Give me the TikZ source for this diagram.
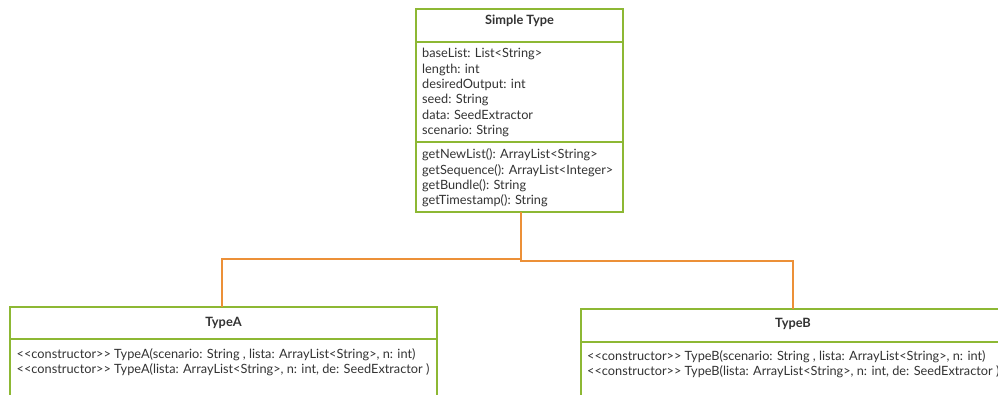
\documentclass[tikz,border=0pt]{standalone}
\usepackage{fontspec}
\setmainfont{Lato}[Ligatures=TeXOff]
\definecolor{umlgreen}{HTML}{8DB834}
\definecolor{linkorange}{HTML}{EC9038}
\definecolor{txt}{HTML}{333333}
\begin{document}
\begin{tikzpicture}[x=1pt,y=-1pt,
  classbox/.style={draw=umlgreen, line width=2pt, fill=white, rectangle, inner sep=0pt, outer sep=0pt, anchor=north west},
  divider/.style={draw=umlgreen, line width=2pt},
  classtitle/.style={font=\fontsize{12.8}{14}\selectfont\bfseries, text=txt, anchor=base, inner sep=0pt},
  member/.style={font=\fontsize{12.75}{14}\selectfont, text=txt, anchor=base west, inner sep=0pt},
  link/.style={draw=linkorange, line width=2pt}]
\useasboundingbox (0,0) rectangle (998,395);
\clip (0,0) rectangle (998,395);

% class boxes
\node[classbox, minimum width=207pt, minimum height=203pt] (simple) at (416,9) {};
\node[classbox, minimum width=427pt, minimum height=120pt] (typeA) at (10,307) {};
\node[classbox, minimum width=424pt, minimum height=120pt] (typeB) at (581,309) {};

% compartment dividers
\draw[divider] (simple.west |- 0,42) -- (simple.east |- 0,42);
\draw[divider] (simple.west |- 0,142) -- (simple.east |- 0,142);
\draw[divider] (typeA.west |- 0,339) -- (typeA.east |- 0,339);
\draw[divider] (typeB.west |- 0,342) -- (typeB.east |- 0,342);

% Simple Type
\node[classtitle] (simpleT) at (519.5,25) {Simple Type};
\node[member] (s1) at (422,58)    {baseList: List<String>};
\node[member] (s2) at (422,73.3)  {length: int};
\node[member] (s3) at (422,88.6)  {desiredOutput: int};
\node[member] (s4) at (422,104)   {seed: String};
\node[member] (s5) at (422,119.2) {data: SeedExtractor};
\node[member] (s6) at (422,134.5) {scenario: String};
\node[member] (m1) at (422,159)   {getNewList(): ArrayList<String>};
\node[member] (m2) at (422,174.3) {getSequence(): ArrayList<Integer>};
\node[member] (m3) at (422,189.6) {getBundle(): String};
\node[member] (m4) at (422,205)   {getTimestamp(): String};

% TypeA
\node[classtitle] (typeAT) at (223.5,326) {TypeA};
\node[member] (a1) at (16.5,358.5) {<<constructor>> TypeA(scenario: String , lista: ArrayList<String>, n: int)};
\node[member] (a2) at (16.5,373.5) {<<constructor>> TypeA(lista: ArrayList<String>, n: int, de: SeedExtractor )};

% TypeB
\node[classtitle] (typeBT) at (793,327) {TypeB};
\node[member] (b1) at (587,360.5) {<<constructor>> TypeB(scenario: String , lista: ArrayList<String>, n: int)};
\node[member] (b2) at (587,375.5) {<<constructor>> TypeB(lista: ArrayList<String>, n: int, de: SeedExtractor )};

% generalisation connectors
\draw[link] ([xshift=1.5pt]simple.south) -- ++(0,47) -| ([xshift=-1.5pt]typeA.north);
\draw[link] ([xshift=1.5pt]simple.south) -- ++(0,49) -| (typeB.north);
\end{tikzpicture}
\end{document}
